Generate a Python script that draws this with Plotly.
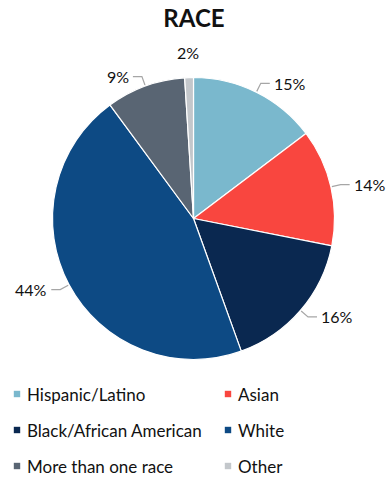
import math
import plotly.graph_objects as go

categories = ["Hispanic/Latino", "Asian", "Black/African American", "White", "More than one race", "Other"]
# slice shares as drawn in the reference (angular sizes)
values = [14.7, 13.4, 16.4, 45.4, 9.1, 1.0]
# data labels as printed in the reference
pct_labels = ["15%", "14%", "16%", "44%", "9%", "2%"]
colors = ["#7AB8CD", "#F9463F", "#0A2850", "#0D4A84", "#596573", "#C3C7CB"]
legend_rows = [0, 0, 1, 1, 2, 2]
legend_cols = [0, 1, 0, 1, 0, 1]

W, H = 388, 477
FONT = "Lato"

# pie geometry (px)
cx, cy, r = 193.5, 218.5, 141

def px_x(x):
    return x / W

def px_y(y):
    return 1 - y / H

fig = go.Figure()
fig.add_trace(go.Pie(
    labels=categories, values=values, sort=False, direction="clockwise", rotation=0,
    marker=dict(colors=colors, line=dict(color="white", width=1.2)),
    textinfo="none", hoverinfo="label", showlegend=False,
    domain=dict(x=[px_x(cx - r), px_x(cx + r)], y=[px_y(cy + r), px_y(cy - r)]),
))

# outside labels with leader lines, placed from the slice angles
total = sum(values)
cum = 0
for v, pct in zip(values, pct_labels):
    mid = (cum + v / 2) / total * 2 * math.pi
    cum += v
    s, c = math.sin(mid), -math.cos(mid)
    if abs(s) < 0.2:
        lx, ly = cx + (r + 25) * s, cy + (r + 25) * c
        fig.add_annotation(x=px_x(lx), y=px_y(ly), xref="paper", yref="paper", text=pct,
                           showarrow=False, xanchor="center", yanchor="middle",
                           font=dict(family=FONT, size=16, color="#111"))
        continue
    ex, ey = cx + (r + 1) * s, cy + (r + 1) * c
    bx, by = cx + (r + 10) * s, cy + (r + 10) * c
    side = 1 if s > 0 else -1
    hx = bx + side * 9
    fig.add_shape(type="path", xref="paper", yref="paper",
                  path=f"M {px_x(ex)} {px_y(ey)} L {px_x(bx)} {px_y(by)} L {px_x(hx)} {px_y(by)}",
                  line=dict(color="#A6A6A6", width=1.2))
    fig.add_annotation(x=px_x(hx + side * 2), y=px_y(by), xref="paper", yref="paper", text=pct,
                       showarrow=False, xanchor="left" if side > 0 else "right", yanchor="middle",
                       font=dict(family=FONT, size=16, color="#111"))

# legend: two columns, three rows
col_x = [17, 228]
row_y = [394, 430, 466]
sq = 3.2
for name, col, row, cc in zip(categories, colors, legend_rows, legend_cols):
    mx, my = col_x[cc], row_y[row]
    fig.add_shape(type="rect", xref="paper", yref="paper",
                  x0=px_x(mx - sq), x1=px_x(mx + sq), y0=px_y(my + sq), y1=px_y(my - sq),
                  fillcolor=col, line=dict(width=0))
    fig.add_annotation(x=px_x(mx + 8), y=px_y(my), xref="paper", yref="paper", text=name,
                       showarrow=False, xanchor="left", yanchor="middle",
                       font=dict(family=FONT, size=17, color="#111"))

fig.update_layout(
    width=W, height=H, margin=dict(l=0, r=0, t=0, b=0),
    paper_bgcolor="white", plot_bgcolor="white", showlegend=False,
    title=dict(text="<b>RACE</b>", x=0.5, xanchor="center", y=px_y(19), yanchor="middle",
               font=dict(family=FONT, size=24, color="#111")),
)

fig.write_html("out.html")
